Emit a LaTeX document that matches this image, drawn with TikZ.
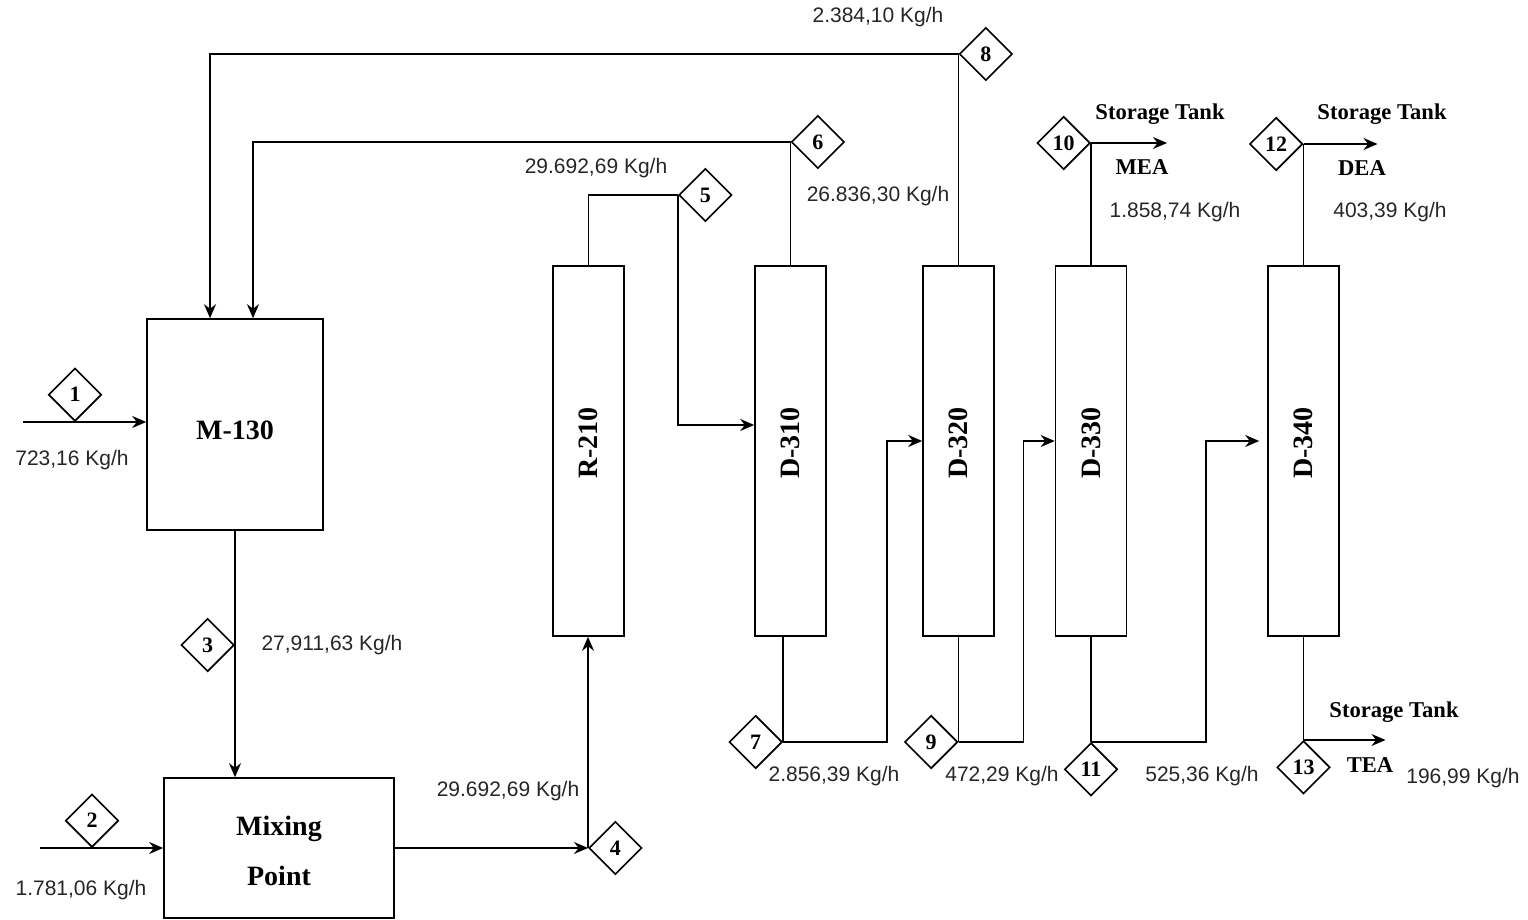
\documentclass[tikz,border=0pt]{standalone}
\usepackage{fontspec}
\setmainfont{Liberation Serif}
\newfontfamily\numfont{Liberation Sans}
\usetikzlibrary{shapes.geometric,arrows.meta,calc}
\begin{document}
\begin{tikzpicture}[x=0.5pt,y=-0.5pt, line width=0.8pt,
 unit/.style={draw, line width=0.8pt, inner sep=0pt},
 utext/.style={inner sep=0pt, font=\fontsize{14}{25}\selectfont\bfseries, align=center},
 col/.style={unit, minimum width=35.5pt, minimum height=185pt},
 dia/.style={draw, diamond, aspect=1, minimum width=26.5pt, minimum height=26.5pt, inner sep=0pt, fill=white, font=\fontsize{11}{12}\selectfont\bfseries},
 flow/.style={font=\numfont\fontsize{10.5}{12}\selectfont, inner sep=0pt, text=black!85},
 tag/.style={font=\fontsize{11.3}{13}\selectfont\bfseries, inner sep=0pt},
 arr/.style={-{Stealth[length=7pt,width=6pt]}},
 ]
\useasboundingbox (0,0) rectangle (1528,920);

% units
\node[unit, minimum width=88pt, minimum height=105.5pt] (m130) at (235,424.5) {};
\node[utext] (m130t) at (235,430) {M-130};
\node[unit, minimum width=115pt, minimum height=70pt] (mix) at (279,848) {};
\node[utext] (mixt) at (279,851) {Mixing\\Point};
\node[col] (r210) at (588.5,451) {};
\node[col] (d310) at (790.5,451) {};
\node[col] (d320) at (958.5,451) {};
\node[col] (d330) at (1091,451) {};
\node[col] (d340) at (1303.5,451) {};
\node[utext] (r210t) at (588.5,443) {\rotatebox{90}{R-210}};
\node[utext] (d310t) at (790.5,443) {\rotatebox{90}{D-310}};
\node[utext] (d320t) at (958.5,443) {\rotatebox{90}{D-320}};
\node[utext] (d330t) at (1091,443) {\rotatebox{90}{D-330}};
\node[utext] (d340t) at (1303.5,443) {\rotatebox{90}{D-340}};

% stream diamonds
\node[dia, anchor=south] (d1) at (75,422) {1};
\node[dia, anchor=south] (d2) at (92,848) {2};
\node[dia, anchor=east] (d3) at (235,645) {3};
\node[dia, anchor=west] (d4) at (588,848) {4};
\node[dia, anchor=west] (d5) at (678,195) {5};
\node[dia, anchor=west] (d6) at (790.5,142) {6};
\node[dia, anchor=east] (d7) at (783,742) {7};
\node[dia, anchor=west] (d8) at (958.5,54) {8};
\node[dia, anchor=east] (d9) at (958.5,742) {9};
\node[dia, anchor=east] (d10) at (1091,143) {10};
\node[dia, anchor=north] (d11) at (1091,742) {11};
\node[dia, anchor=east] (d12) at (1303.5,144) {12};
\node[dia, anchor=north] (d13) at (1303.5,740) {13};

% feed ends
\coordinate (s1) at (23,422);
\coordinate (s2) at (40,848);

% connectors
\draw[arr] (s1) -- (s1 -| m130.west);
\draw[arr] (s2) -- (mix.west);
\draw[arr] (m130.south) -- (m130.south |- mix.north);
\draw[arr] (mix.east) -- (d4.west);
\draw[arr] (d4.west) -- (d4.west |- r210.south);
\draw (r210.north) |- (d5.west);
\draw[arr] (d5.west) |- ($(d310.west)+(0,-26)$);
\draw (d310.north) -- (d6.west);
\draw[arr] (d6.west) -| ($(m130.north)+(18,0)$);
\draw (d320.north) -- (d8.west);
\draw[arr] (d8.west) -| ($(m130.north)+(-25,0)$);
\draw (d310.south -| d7.east) -- (d7.east);
\draw[arr] (d7.east) -- ++(104,0) |- ($(d320.west)+(0,-10)$);
\draw (d320.south) -- (d9.east);
\draw[arr] (d9.east) -- ++(65,0) |- ($(d330.west)+(0,-10)$);
\draw (d330.south) -- (d11.north);
\draw[arr] (d11.north) -- ++(115,0) |- ($(d340.west)+(-8,-10)$);
\draw (d330.north) -- (d10.east);
\draw[arr] (d10.east) -- ++(76,0);
\draw (d340.north) -- (d12.east);
\draw[arr] (d12.east) -- ++(74,0);
\draw (d340.south) -- (d13.north);
\draw[arr] (d13.north) -- ++(82,0);

% flow labels
\node[flow] (f1) at (72,460) {723,16 Kg/h};
\node[flow] (f2) at (81,890) {1.781,06 Kg/h};
\node[flow] (f3) at (332,645) {27,911,63 Kg/h};
\node[flow] (f4) at (508,791) {29.692,69 Kg/h};
\node[flow] (f5) at (596,168) {29.692,69 Kg/h};
\node[flow] (f8) at (878,17) {2.384,10 Kg/h};
\node[flow] (f6) at (878,196) {26.836,30 Kg/h};
\node[flow] (f10) at (1175,212) {1.858,74 Kg/h};
\node[flow] (f12) at (1390,212) {403,39 Kg/h};
\node[flow] (f7) at (834,776) {2.856,39 Kg/h};
\node[flow] (f9) at (1002,776) {472,29 Kg/h};
\node[flow] (f11) at (1202,776) {525,36 Kg/h};
\node[flow] (f13) at (1463,778) {196,99 Kg/h};

% product tags
\node[tag] (st10) at (1160,114) {Storage Tank};
\node[tag] (mea) at (1142,167) {MEA};
\node[tag] (st12) at (1382,114) {Storage Tank};
\node[tag] (dea) at (1362,168) {DEA};
\node[tag] (st13) at (1394,712) {Storage Tank};
\node[tag] (tea) at (1370,765) {TEA};
\end{tikzpicture}
\end{document}
